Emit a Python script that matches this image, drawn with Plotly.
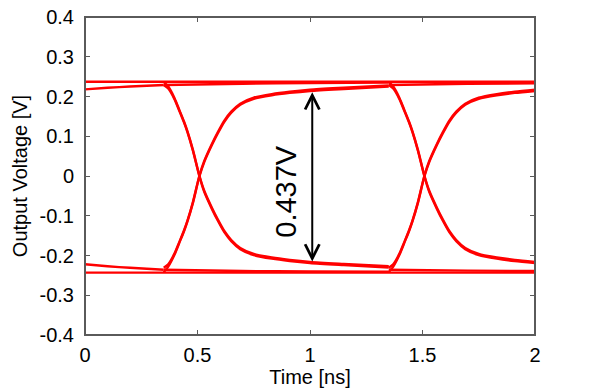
import plotly.graph_objects as go

# ---------------- data ----------------
x_ticks = [0, 0.5, 1, 1.5, 2]
x_tick_labels = ["0", "0.5", "1", "1.5", "2"]
y_ticks = [-0.4, -0.3, -0.2, -0.1, 0, 0.1, 0.2, 0.3, 0.4]
y_tick_labels = ["-0.4", "-0.3", "-0.2", "-0.1", "0", "0.1", "0.2", "0.3", "0.4"]

# steady levels
hi_flat_t = [0, 2]
hi_flat_v = [0.237, 0.237]
lo_flat_t = [0, 2]
lo_flat_v = [-0.243, -0.243]

# slow tails settling toward the steady levels
hi_tail0_t = [0, 0.1, 0.2, 0.35]
hi_tail0_v = [0.218, 0.222, 0.225, 0.229]
hi_settle1_t = [0.35, 0.7, 1.0, 1.35]
hi_settle1_v = [0.229, 0.232, 0.234, 0.235]
hi_settle2_t = [1.35, 1.7, 2.0]
hi_settle2_v = [0.229, 0.232, 0.233]
lo_tail0_t = [0, 0.1, 0.2, 0.35]
lo_tail0_v = [-0.222, -0.227, -0.231, -0.236]
lo_settle1_t = [0.35, 0.7, 1.0, 1.35]
lo_settle1_v = [-0.236, -0.239, -0.240, -0.241]
lo_settle2_t = [1.35, 1.7, 2.0]
lo_settle2_v = [-0.236, -0.238, -0.239]

# transitions, first bit period
edge1_t = [0.35, 0.37, 0.397, 0.42, 0.44, 0.455, 0.48, 0.508, 0.53, 0.565,
           0.59, 0.62, 0.65, 0.69, 0.75, 0.83, 0.91, 1.0, 1.15, 1.35]
rise1_v = [-0.231, -0.222, -0.196, -0.165, -0.137, -0.113, -0.065, 0.0, 0.038, 0.082,
           0.11, 0.14, 0.162, 0.182, 0.197, 0.206, 0.212, 0.217, 0.222, 0.228]
rise1b_v = [-0.242, -0.228, -0.199, -0.167, -0.139, -0.115, -0.067, -0.002, 0.035, 0.079,
            0.107, 0.137, 0.159, 0.179, 0.194, 0.203, 0.209, 0.214, 0.219, 0.225]
fall1_v = [0.229, 0.220, 0.194, 0.163, 0.135, 0.111, 0.063, 0.0, -0.040, -0.084,
           -0.112, -0.142, -0.164, -0.184, -0.199, -0.208, -0.214, -0.219, -0.224, -0.230]
fall1b_v = [0.237, 0.225, 0.197, 0.165, 0.137, 0.113, 0.065, 0.002, -0.037, -0.081,
            -0.109, -0.139, -0.161, -0.181, -0.196, -0.205, -0.211, -0.216, -0.221, -0.227]

# transitions, second bit period
edge2_t = [1.35, 1.37, 1.397, 1.42, 1.44, 1.455, 1.48, 1.508, 1.53, 1.565,
           1.59, 1.62, 1.65, 1.69, 1.75, 1.83, 1.91, 2.0]
rise2_v = [-0.231, -0.222, -0.196, -0.165, -0.137, -0.113, -0.065, 0.0, 0.038, 0.082,
           0.11, 0.14, 0.162, 0.182, 0.197, 0.206, 0.212, 0.217]
rise2b_v = [-0.242, -0.228, -0.199, -0.167, -0.139, -0.115, -0.067, -0.002, 0.035, 0.079,
            0.107, 0.137, 0.159, 0.179, 0.194, 0.203, 0.209, 0.214]
fall2_v = [0.229, 0.220, 0.194, 0.163, 0.135, 0.111, 0.063, 0.0, -0.040, -0.084,
           -0.112, -0.142, -0.164, -0.184, -0.199, -0.208, -0.214, -0.219]
fall2b_v = [0.237, 0.225, 0.197, 0.165, 0.137, 0.113, 0.065, 0.002, -0.037, -0.081,
            -0.109, -0.139, -0.161, -0.181, -0.196, -0.205, -0.211, -0.216]

eye_t = 1.01
eye_top = 0.211
eye_bottom = -0.219
eye_label = "0.437V"
label_t = 0.896
label_v = -0.038

# ---------------- figure ----------------
RED = "#ff0000"
AXIS = "#5a5a5a"
FONT = "Liberation Sans, Arial, sans-serif"

series = [
    (hi_flat_t, hi_flat_v), (lo_flat_t, lo_flat_v),
    (hi_tail0_t, hi_tail0_v), (hi_settle1_t, hi_settle1_v), (hi_settle2_t, hi_settle2_v),
    (lo_tail0_t, lo_tail0_v), (lo_settle1_t, lo_settle1_v), (lo_settle2_t, lo_settle2_v),
    (edge1_t, rise1_v), (edge1_t, rise1b_v), (edge1_t, fall1_v), (edge1_t, fall1b_v),
    (edge2_t, rise2_v), (edge2_t, rise2b_v), (edge2_t, fall2_v), (edge2_t, fall2b_v),
]

fig = go.Figure()
for t, v in series:
    fig.add_trace(go.Scatter(
        x=t, y=v, mode="lines",
        line=dict(color=RED, width=2.4, shape="spline", smoothing=0.7),
        showlegend=False, hoverinfo="skip",
    ))

fig.add_annotation(
    x=eye_t, y=eye_top, ax=eye_t, ay=eye_bottom,
    xref="x", yref="y", axref="x", ayref="y",
    text="", showarrow=True, arrowside="end+start",
    arrowhead=5, startarrowhead=5, arrowsize=1.4, startarrowsize=1.4,
    arrowwidth=2, arrowcolor="black", standoff=0, startstandoff=0,
)
fig.add_annotation(
    x=label_t, y=label_v, xref="x", yref="y",
    text=eye_label, showarrow=False, textangle=-90,
    font=dict(family=FONT, size=29, color="black"),
)

# explicit frame around the plotting area (top edge included)
fig.add_shape(type="rect", xref="paper", yref="paper", x0=0, y0=0, x1=1, y1=1,
              line=dict(color=AXIS, width=2), layer="above")

axis_common = dict(
    showline=True, linecolor=AXIS, linewidth=1,
    mirror="ticks", ticks="inside", ticklen=5, tickcolor=AXIS, tickwidth=1,
    showgrid=False, zeroline=False, automargin=False, ticklabeloverflow="allow",
    tickfont=dict(family=FONT, size=20, color="black"),
)

# the page body adds an 8 px margin, so the figure is sized and placed to compensate
fig.update_layout(
    width=592, height=380,
    margin=dict(l=77, r=65, t=9, b=53),
    paper_bgcolor="white", plot_bgcolor="white",
    font=dict(family=FONT, color="black"),
    xaxis=dict(
        range=[0, 2], tickvals=x_ticks, ticktext=x_tick_labels,
        title=dict(text="Time [ns]", font=dict(family=FONT, size=20, color="black"), standoff=2),
        ticklabelstandoff=2,
        **axis_common,
    ),
    yaxis=dict(
        range=[-0.4, 0.4], tickvals=y_ticks, ticktext=y_tick_labels,
        title=dict(text="Output Voltage [V]", font=dict(family=FONT, size=20, color="black"), standoff=6),
        ticklabelstandoff=6,
        **axis_common,
    ),
)

fig.write_html("out.html")
